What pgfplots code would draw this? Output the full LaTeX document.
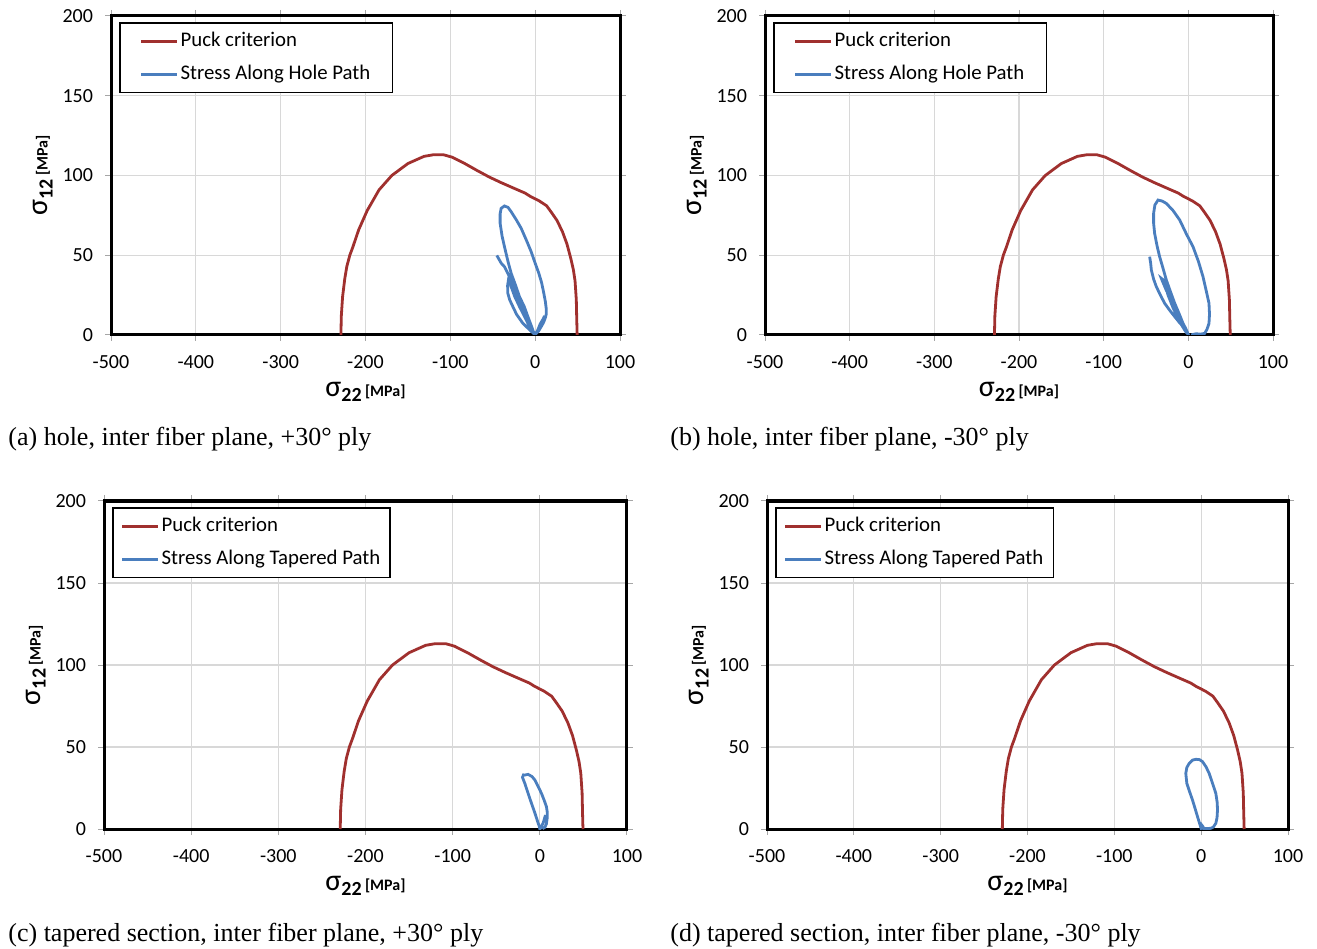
\documentclass[border=0pt]{standalone}
\usepackage{pgfplots}
\pgfplotsset{compat=1.18}
\usepackage{pgfplotstable}
\usepackage{graphicx}
\usepackage{fontspec}
\setmainfont{Liberation Serif}
\newfontfamily\calfont{Carlito}
\definecolor{puck}{RGB}{160,48,46}
\definecolor{stress}{RGB}{74,126,190}
\definecolor{gridc}{RGB}{216,216,216}

\pgfplotstableread{
x y
-229 0
-228.5 12
-227 24
-224.5 35
-222 43
-218.5 50
-215 55
-208 66
-198 78
-184 91
-169 100
-150 107.5
-131 112
-120 113
-108 113
-98 111.5
-83 107.5
-68 103
-54 99
-40 95.5
-25 92
-12 89
-6 87
5 84
13.5 81
19 77
25.5 72
32 65
37.5 57
42 48
45 41
47 34
48.5 22
49 10
49.5 0
}\puck

\pgfplotstableread{
x y
-45.2 49.9
-40 45
-36.2 42.8
-28.3 34.5
-18.5 21.9
-8.6 9.4
-2 1.5
0 0
-6 3
-14.5 7.3
-22 13
-26.3 17.8
-30 22
-32.2 26.1
-32.5 31
-31.4 34.9
-29.5 33
-28.3 30.3
-24 24
-18.5 17.8
-12 11
-6.7 5.2
-1 0.5
-4 5
-8.6 11.5
-13 18
-18.5 24
-23 31
-28.3 38.7
-32 46
-36.2 55.4
-39 62
-41.3 70
-41.3 76
-40.1 79.4
-36.2 80.9
-32 80
-28.3 77.3
-22 72
-16.5 66.9
-10 59
-4.7 52.2
0 45
4.3 38.7
7.5 33
9.8 27.2
12 21
13 16.7
13 13
12.2 11.1
10 8
7.1 5.2
4 2.5
1.2 1
0 0.3
3 3
6 7
9.8 10.4
11 12
}\stressA

\pgfplotstableread{
x y
-45.7 49.1
-44.5 45
-43.7 40.8
-41 35
-37.8 30.3
-33 25
-28 19.9
-22 15.5
-16.1 11.5
-10 7.5
-4.3 4.2
-0.4 0.6
-5 5
-12 13
-20 22
-26 28
-30 33
-31.9 35.5
-29.5 34.5
-27 31
-24 25
-18 17
-10 8
-3 2
0 0.3
-3 4
-6.3 7.3
-11 13.5
-16.1 19.9
-21 27
-26 34.5
-30 42
-33.9 49.1
-37 56
-39.8 63.7
-41 70
-41 76.3
-39.5 81.5
-35.8 84.6
-31 84
-26 82.5
-18 78
-10.2 72.1
-2 63
5.5 55.4
12 46
17.3 36.6
21 28
24.4 19.9
25 13
24.4 7.3
22 3.5
19.3 1
14 0.5
9.4 0.8
5 0.3
3.5 0
}\stressB

\pgfplotstableread{
x y
6.5 8.5
4 4
1.5 1
0 0
-0.5 1.5
-1.9 3.5
-5.5 9.5
-9.6 15.7
-13 21
-17.2 27.8
-19.9 31.5
-18.8 33
-17.2 32.9
-13.4 33.3
-9 32
-5.7 29.9
-2 26
1.9 21.7
5 17.5
7.6 13.6
8.6 10
8.4 6.5
7.5 3
5.7 1
3 0.2
}\stressC

\pgfplotstableread{
x y
2.7 1
0.5 2.5
-0.4 1
-4.2 7.5
-7 12.5
-10 17.7
-13.5 23
-16.5 27.8
-17.7 33.9
-16.5 37.5
-13.8 40
-10 42
-6.1 42.5
-2 42.3
1.5 41.1
5.5 38
9.2 33.9
13 28
16.9 21.7
18.5 16
18.8 11.6
18.3 7
16.9 3.5
14 1.2
11.1 0.4
6 0.3
1.5 0.4
-0.4 1
}\stressD

\newcommand{\sig}[1]{\calfont{\fontsize{15}{15}\selectfont σ}{\bfseries\fontsize{10}{10}\selectfont\raisebox{-2.5pt}{#1}}\,{\bfseries\fontsize{8}{8}\selectfont [MPa]}}

\pgfplotsset{
  panel/.style={
    scale only axis,
    xmin=-500, xmax=100, ymin=0, ymax=200,
    xtick={-500,-400,-300,-200,-100,0,100},
    xticklabels={-500,-400,-300,-200,-100,0,100},
    ytick={0,50,100,150,200},
    yticklabels={0,50,100,150,200},
    grid=major,
    major grid style={gridc, line width=0.55pt},
    axis line style={black, line width=1.5pt},
    tick align=outside,
    major tick length=3pt,
    tick style={gray!70, line width=0.5pt},
    tick label style={font=\calfont\fontsize{10}{12}\selectfont},
    xticklabel style={yshift=-3.5pt},
    yticklabel style={xshift=-2.5pt},
    xlabel={\sig{22}},
    ylabel={\sig{12}},
    xlabel style={at={([yshift=-28.5pt]axis description cs:0.5,0)}, anchor=center},
    ylabel style={at={([xshift=-34pt]axis description cs:0,0.5)}, anchor=center},
    legend cell align=left,
    legend style={at={([xshift=4pt,yshift=-3pt]axis description cs:0,1)},
      anchor=north west, draw=black, line width=0.8pt,
      font=\calfont\fontsize{10.4}{12}\selectfont,
      inner xsep=10pt, inner ysep=3.8pt, row sep=5.8pt,
      nodes={inner sep=1pt}},
    legend image code/.code={\draw[#1] (0pt,0pt) -- (18pt,0pt);},
  },
  puckline/.style={puck, line width=1.4pt},
  stressline/.style={stress, line width=1.4pt},
}

\begin{document}
\begin{tikzpicture}
\useasboundingbox (0,0) rectangle (658.5pt,474pt);

% (a)
\begin{axis}[panel, at={(55.5pt,306.5pt)}, anchor=south west, width=254.5pt, height=159.5pt]
\addplot[puckline] table {\puck};
\addlegendentry{Puck criterion}
\addplot[stressline] table {\stressA};
\addlegendentry{Stress Along Hole Path}
\end{axis}

% (b)
\begin{axis}[panel, at={(382.5pt,306.5pt)}, anchor=south west, width=254pt, height=159.5pt]
\addplot[puckline] table {\puck};
\addlegendentry{Puck criterion}
\addplot[stressline] table {\stressB};
\addlegendentry{Stress Along Hole Path}
\end{axis}

% (c)
\begin{axis}[panel, at={(52pt,59.5pt)}, anchor=south west, width=261.5pt, height=164pt,
  legend style={inner xsep=4pt}]
\addplot[puckline] table {\puck};
\addlegendentry{Puck criterion}
\addplot[stressline] table {\stressC};
\addlegendentry{Stress Along Tapered Path}
\end{axis}

% (d)
\begin{axis}[panel, at={(383.5pt,59.5pt)}, anchor=south west, width=260.5pt, height=164pt,
  legend style={inner xsep=4pt}]
\addplot[puckline] table {\puck};
\addlegendentry{Puck criterion}
\addplot[stressline] table {\stressD};
\addlegendentry{Stress Along Tapered Path}
\end{axis}

\node[anchor=base west, inner sep=0pt, font=\fontsize{13}{15}\selectfont] at (4pt,251pt) {(a) hole, inter fiber plane, +30° ply};
\node[anchor=base west, inner sep=0pt, font=\fontsize{13}{15}\selectfont] at (335pt,251pt) {(b) hole, inter fiber plane, -30° ply};
\node[anchor=base west, inner sep=0pt, font=\fontsize{13}{15}\selectfont] at (4pt,3.5pt) {(c) tapered section, inter fiber plane, +30° ply};
\node[anchor=base west, inner sep=0pt, font=\fontsize{13}{15}\selectfont] at (335pt,3.5pt) {(d) tapered section, inter fiber plane, -30° ply};
\end{tikzpicture}
\end{document}
